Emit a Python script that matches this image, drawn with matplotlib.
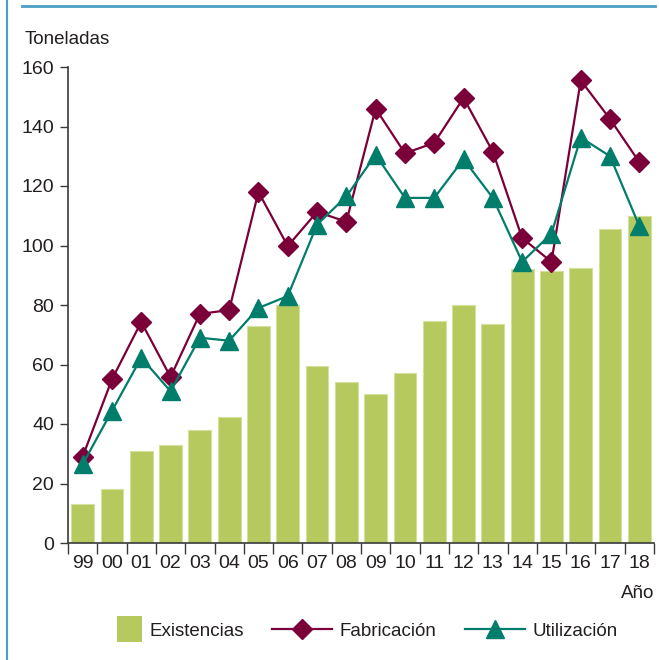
import matplotlib
matplotlib.use("Agg")
import matplotlib.pyplot as plt
from matplotlib.lines import Line2D
from matplotlib.patches import Rectangle
from matplotlib.legend_handler import HandlerPatch

# data
years = ["99", "00", "01", "02", "03", "04", "05", "06", "07", "08",
         "09", "10", "11", "12", "13", "14", "15", "16", "17", "18"]
existencias = [13, 18, 31, 33, 38, 42.5, 73, 80, 59.5, 54,
               50, 57, 74.5, 80, 73.5, 92, 91.5, 92.5, 105.5, 110]
fabricacion = [29, 55, 74.3, 55.8, 77, 78.3, 118, 99.8, 111.3, 108,
               146, 131, 134.5, 149.6, 131.5, 102.5, 94.5, 155.5, 142.5, 128]
utilizacion = [26.5, 44.4, 62.3, 51, 69, 68, 79, 83, 107, 116.5,
               130.5, 116, 116, 129, 116, 94.5, 104, 136.3, 130, 106.5]

plt.rcParams['font.family'] = ['Liberation Sans', 'DejaVu Sans']
fs = 13.5
fs_tick = 14

col_bar = "#b5c95f"
col_fab = "#7b0039"
col_uti = "#007d6b"
col_txt = "#231f20"


def square_patch(legend, orig_handle, xdescent, ydescent, width, height, fontsize):
  # square sitting at the right end of the handle box
  side = 1.95 * height
  cx = -xdescent + width - side / 2
  cy = -ydescent + height / 2
  return Rectangle((cx - side / 2, cy - side / 2), side, side)


fig = plt.figure(figsize=(6.59, 6.60), dpi=100)
ax = fig.add_axes([68 / 659, 1 - 543 / 660, 586 / 659, 476 / 660])

x = list(range(len(years)))
ax.bar(x, existencias, width=0.78, color=col_bar, edgecolor="#d4e09b", linewidth=0.8,
       label="Existencias", zorder=1)
l1, = ax.plot(x, fabricacion, color=col_fab, lw=1.6, marker="D", markersize=10,
              label="Fabricación", zorder=3)
l2, = ax.plot(x, utilizacion, color=col_uti, lw=1.6, marker="^", markersize=13,
              label="Utilización", zorder=4)

ax.set_xlim(-0.5, len(years) - 0.5)
ax.set_ylim(0, 160)
ax.set_yticks(range(0, 161, 20))
ax.set_xticks(x)
ax.set_xticklabels(years)
ax.set_xticks([i - 0.5 for i in range(len(years) + 1)], minor=True)
ax.tick_params(axis="x", which="major", length=0, pad=9, labelsize=fs_tick, colors=col_txt)
ax.tick_params(axis="x", which="minor", length=8, width=1, color="#3a3a3a")
ax.tick_params(axis="y", length=6, width=1, color="#3a3a3a", labelsize=fs_tick,
               labelcolor=col_txt, pad=4)

for s in ["top", "right"]:
  ax.spines[s].set_visible(False)
for s in ["left", "bottom"]:
  ax.spines[s].set_color("#3a3a3a")
  ax.spines[s].set_linewidth(1.2)

fig.text(25 / 659, 1 - 40 / 660, "Toneladas", fontsize=fs, color=col_txt,
         ha="left", va="center")
fig.text(654 / 659, 1 - 593 / 660, "Año", fontsize=fs, color=col_txt,
         ha="right", va="center")

proxy = Rectangle((0, 0), 1, 1, facecolor=col_bar, edgecolor="none")
fig.legend([proxy, l1, l2], ["Existencias", "Fabricación", "Utilización"],
           loc="center", bbox_to_anchor=(0.531, 1 - 631 / 660), ncol=3, frameon=False,
           fontsize=fs, handlelength=3.2, columnspacing=1.5, handletextpad=0.4,
           labelcolor=col_txt,
           handler_map={proxy: HandlerPatch(patch_func=square_patch)})

# blue frame lines
fig.add_artist(Line2D([7 / 659, 7 / 659], [0, 1], color="#4a9fc4", lw=1.5))
fig.add_artist(Line2D([22 / 659, 655 / 659], [1 - 6 / 660, 1 - 6 / 660],
                      color="#4a9fc4", lw=2))

fig.savefig("out.png", dpi=100)
